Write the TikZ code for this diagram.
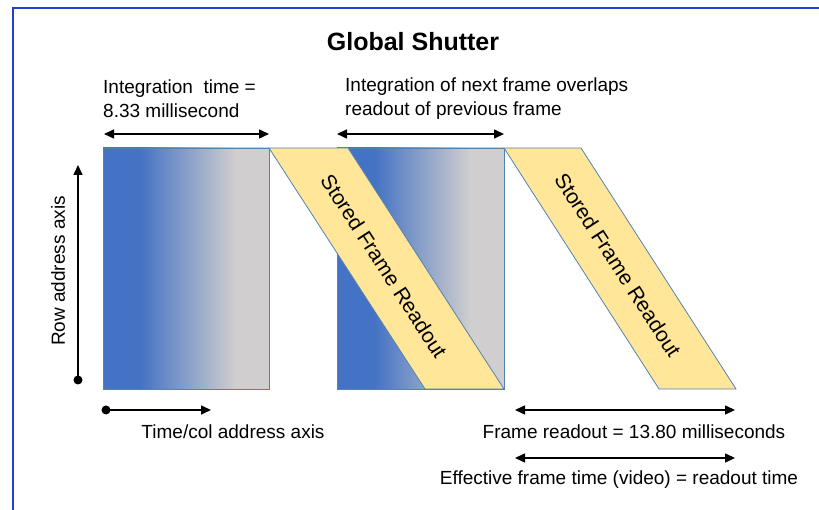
\documentclass[tikz,border=0pt]{standalone}
\usepackage{fontspec}
\setmainfont{Liberation Sans}
\usetikzlibrary{arrows.meta}
\definecolor{ibl}{RGB}{68,114,196}
\definecolor{igr}{RGB}{208,206,206}
\definecolor{iyel}{RGB}{255,230,153}
\definecolor{iedge}{RGB}{84,130,178}
\definecolor{frameblue}{RGB}{35,64,204}
\pgfdeclarehorizontalshading{intshade}{100bp}{color(0bp)=(ibl); color(36bp)=(ibl); color(65bp)=(igr); color(100bp)=(igr)}
\begin{document}
\begin{tikzpicture}[x=1bp,y=1bp,
  body/.style={font=\fontsize{19bp}{24bp}\selectfont, inner sep=0pt},
  titletext/.style={font=\fontsize{25bp}{28bp}\selectfont\bfseries, inner sep=0pt},
  bandtext/.style={font=\fontsize{21bp}{24bp}\selectfont, inner sep=0pt},
  integ/.style={shading=intshade, draw=iedge, line width=0.8bp},
  readout/.style={fill=iyel, draw=iedge, line width=0.8bp},
  dimarrow/.style={line width=1.5bp, {Triangle[length=10bp,width=9bp]}-{Triangle[length=10bp,width=9bp]}},
  axisarrow/.style={line width=1.5bp, -{Triangle[length=10bp,width=9bp]}},
  dot/.style={fill=black},
]
\useasboundingbox (0,0) rectangle (819,510);
% frame lines
\draw[frameblue, line width=2bp] (13,0) -- (13,502) -- (819,502);

% integration rectangles
\path[integ] (103,121) rectangle (269,362);
\path[integ] (337,121) rectangle (504,362);

% readout bands
\path[readout] (269,362) -- (348,362) -- (504,121) -- (425,121) -- cycle;
\path[readout] (504,362) -- (581,362) -- (736,121) -- (659,121) -- cycle;

\node[bandtext, rotate=-57.1] (band1) at (384,244) {Stored Frame Readout};
\node[bandtext, rotate=-57.1] (band2) at (618,245) {Stored Frame Readout};

% title
\node[titletext] (title) at (413,468) {Global Shutter};

% top labels
\node[body, anchor=base west, align=left] (intlabel) at (103,392) {Integration\ \ time =\\8.33 millisecond};
\node[body, anchor=base west, align=left] (overlabel) at (345,394) {Integration of next frame overlaps\\readout of previous frame};

% top dimension arrows
\coordinate (a1l) at (104,376);
\coordinate (a1r) at (269,376);
\coordinate (a2l) at (337,376);
\coordinate (a2r) at (504,376);
\draw[dimarrow] (a1l) -- (a1r);
\draw[dimarrow] (a2l) -- (a2r);

% row axis
\coordinate (rowstart) at (78,130);
\coordinate (rowend) at (78,345);
\draw[axisarrow] (rowstart) -- (rowend);
\fill[dot] (rowstart) circle (4.5bp);
\node[body, rotate=90] (rowlabel) at (58,239) {Row address axis};

% time axis
\coordinate (timestart) at (106,100);
\coordinate (timeend) at (211,100);
\draw[axisarrow] (timestart) -- (timeend);
\fill[dot] (timestart) circle (4.5bp);
\node[body] (timelabel) at (233,78) {Time/col address axis};

% bottom right arrows
\coordinate (b1l) at (515,100);
\coordinate (b1r) at (735,100);
\coordinate (b2l) at (515,52);
\coordinate (b2r) at (735,52);
\draw[dimarrow] (b1l) -- (b1r);
\draw[dimarrow] (b2l) -- (b2r);
\node[body] (readlabel) at (634,78) {Frame readout = 13.80 milliseconds};
\node[body] (efflabel) at (619,30) {Effective frame time (video) = readout time};
\end{tikzpicture}
\end{document}
